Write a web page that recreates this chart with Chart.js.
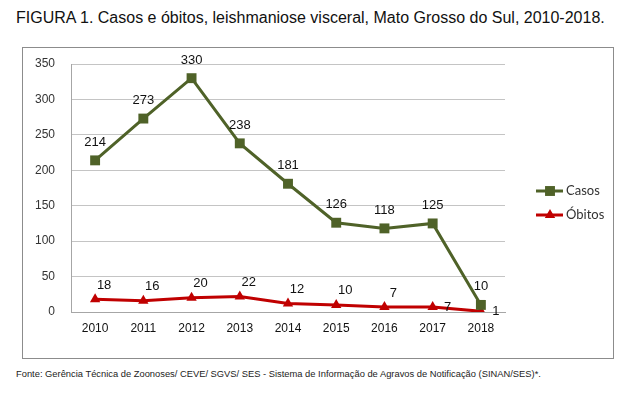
<!DOCTYPE html>
<html>
<head>
<meta charset="utf-8">
<script src="https://cdn.jsdelivr.net/npm/chart.js@4"></script>
<style>
  body { margin: 0; background: #fff; font-family: "Liberation Sans", Arial, sans-serif; }
  #title { position: absolute; left: 16px; top: 9px; font-size: 16px; color: #111; white-space: nowrap; }
  #box { position: absolute; left: 22px; top: 47px; width: 590px; height: 310px; border: 1px solid #8c8c8c; }
  #source { position: absolute; left: 16px; top: 369px; font-size: 9.35px; color: #222; white-space: nowrap; }
</style>
</head>
<body>
<div id="title">FIGURA 1. Casos e óbitos, leishmaniose visceral, Mato Grosso do Sul, 2010-2018.</div>
<div id="box"><canvas id="chart" width="590" height="310"></canvas></div>
<div id="source">Fonte: Gerência Técnica de Zoonoses/ CEVE/ SGVS/ SES - Sistema de Informação de Agravos de Notificação (SINAN/SES)*.</div>
<script>
const years = ['2010', '2011', '2012', '2013', '2014', '2015', '2016', '2017', '2018'];
const casos = [214, 273, 330, 238, 181, 126, 118, 125, 10];
const obitos = [18, 16, 20, 22, 12, 10, 7, 7, 1];

// value labels above (or beside) each point
const valueLabels = {
  id: 'valueLabels',
  afterDatasetsDraw(chart) {
    const ctx = chart.ctx;
    ctx.save();
    ctx.font = '13px "Liberation Sans", Arial, sans-serif';
    ctx.fillStyle = '#111';
    ctx.textAlign = 'center';
    ctx.textBaseline = 'middle';
    chart.data.datasets.forEach((ds, i) => {
      chart.getDatasetMeta(i).data.forEach((pt, j) => {
        const place = ds.labelPlace[j];
        let x = pt.x, y = pt.y;
        if (place === 'right') { x += 15; }
        else if (place === 'topRight') { x += 9; y -= 14; }
        else { y -= 18; }
        ctx.fillText(String(ds.data[j]), x, y);
      });
    });
    ctx.restore();
  }
};

// legend with line + marker, like the spreadsheet original
const lineLegend = {
  id: 'lineLegend',
  afterDraw(chart) {
    const ctx = chart.ctx;
    const x0 = chart.chartArea.right + 31;
    const top = 143;
    ctx.save();
    chart.data.datasets.forEach((ds, i) => {
      const y = top + i * 24;
      const cx = x0 + 14;
      ctx.strokeStyle = ds.borderColor;
      ctx.lineWidth = 3;
      ctx.beginPath();
      ctx.moveTo(x0, y);
      ctx.lineTo(x0 + 27, y);
      ctx.stroke();
      ctx.fillStyle = ds.borderColor;
      ctx.beginPath();
      if (ds.pointStyle === 'rect') {
        const s = Math.SQRT1_2 * ds.pointRadius;
        ctx.fillRect(cx - s, y - s, 2 * s, 2 * s);
      } else {
        const r = ds.pointRadius;
        ctx.moveTo(cx, y - r);
        ctx.lineTo(cx + r * 0.866, y + r * 0.5);
        ctx.lineTo(cx - r * 0.866, y + r * 0.5);
        ctx.closePath();
        ctx.fill();
      }
      ctx.fillStyle = '#333';
      ctx.font = '13px Lato, "Liberation Sans", sans-serif';
      ctx.textBaseline = 'middle';
      ctx.fillText(ds.label, x0 + 30, y);
    });
    ctx.restore();
  }
};

new Chart(document.getElementById('chart'), {
  type: 'line',
  data: {
    labels: years,
    datasets: [
      {
        label: 'Casos',
        data: casos,
        borderColor: '#4F6228',
        backgroundColor: '#4F6228',
        borderWidth: 3,
        pointStyle: 'rect',
        pointRadius: 7,
        pointBorderWidth: 0,
        labelPlace: ['top', 'top', 'top', 'top', 'top', 'top', 'top', 'top', 'top']
      },
      {
        label: 'Óbitos',
        data: obitos,
        borderColor: '#C00000',
        backgroundColor: '#C00000',
        borderWidth: 3,
        pointStyle: 'triangle',
        pointRadius: 6,
        pointBorderWidth: 0,
        labelPlace: ['topRight', 'topRight', 'topRight', 'topRight', 'topRight', 'topRight', 'topRight', 'right', 'right']
      }
    ]
  },
  options: {
    animation: false,
    responsive: false,
    layout: { padding: { top: 16, right: 108, bottom: 0, left: 0 } },
    plugins: {
      legend: { display: false },
      tooltip: { enabled: false }
    },
    scales: {
      x: {
        offset: true,
        grid: { display: false, drawTicks: false },
        border: { color: '#a6a6a6', width: 1 },
        ticks: { color: '#111', padding: 9, font: { size: 12, family: '"Liberation Sans", Arial' } },
        afterFit(axis) { axis.height = 46; axis.paddingLeft = 0; axis.paddingRight = 0; }
      },
      y: {
        min: 0,
        max: 350,
        ticks: { stepSize: 50, color: '#333', padding: 16, font: { size: 12, family: '"Liberation Sans", Arial' } },
        grid: { color: '#c4c4c4', drawTicks: false },
        border: { color: '#a6a6a6', width: 1 },
        afterFit(axis) { axis.width = 48; axis.paddingTop = 0; axis.paddingBottom = 0; }
      }
    }
  },
  plugins: [valueLabels, lineLegend]
});
</script>
</body>
</html>
